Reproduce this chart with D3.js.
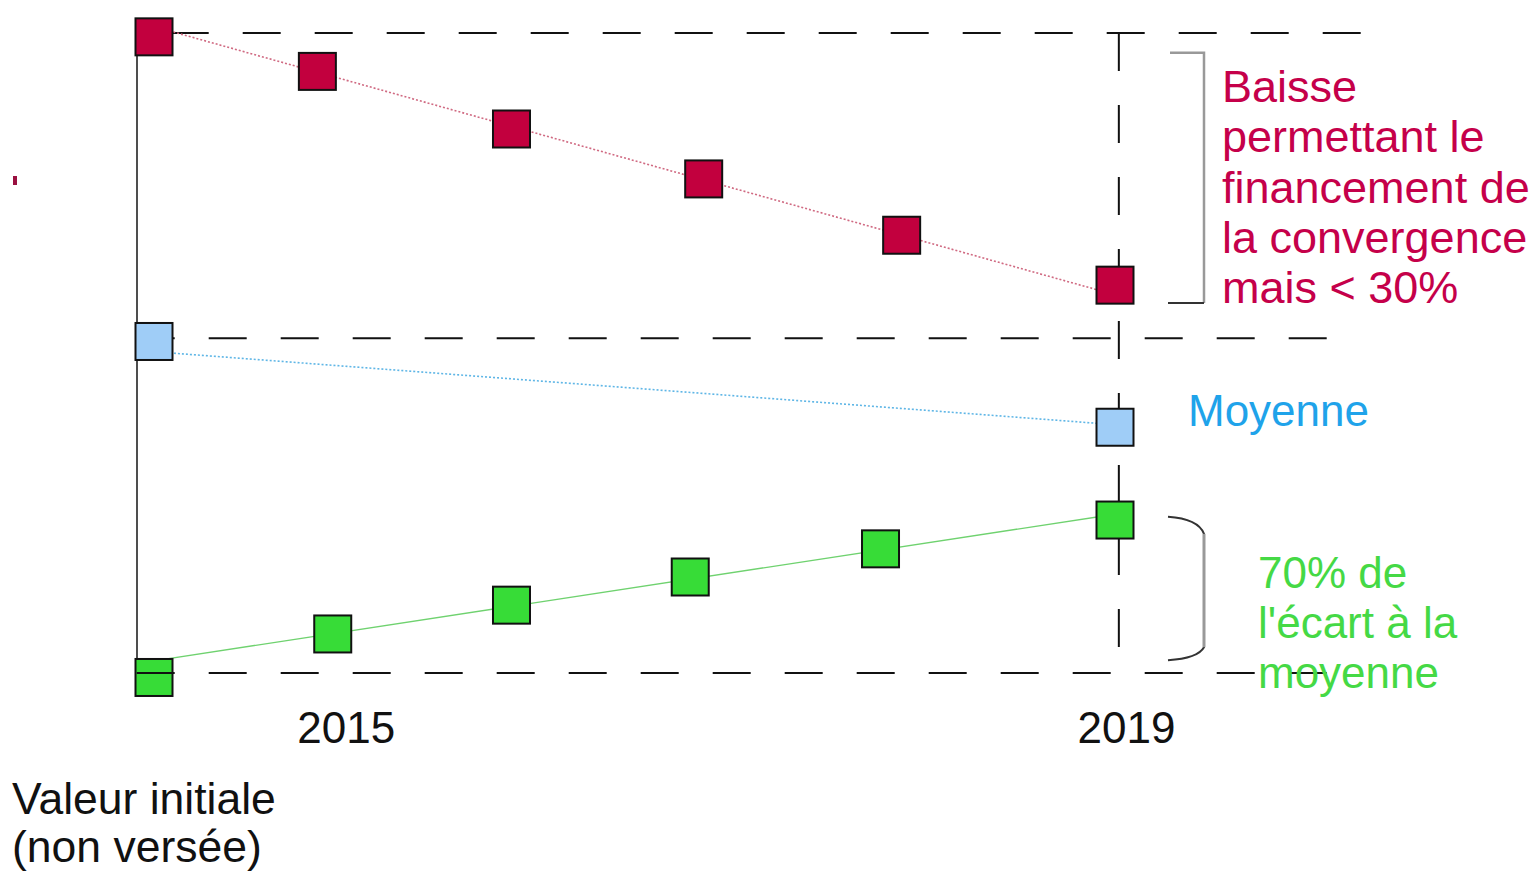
<!DOCTYPE html>
<html>
<head>
<meta charset="utf-8">
<script src="https://cdn.jsdelivr.net/npm/d3@7"></script>
<style>
  body { margin: 0; background: #fff; }
  svg { display: block; font-family: "Liberation Sans", Arial, sans-serif; }
</style>
</head>
<body>
<div id="chart"></div>
<script>
// values (x in years, y in % of the initial gap)
const baisse = [
  { x: 2014, v: 99.4 }, { x: 2014.85, v: 94.0 }, { x: 2015.86, v: 85.0 },
  { x: 2016.86, v: 77.2 }, { x: 2017.89, v: 68.4 }, { x: 2019, v: 60.6 }
];
const moyenne = [{ x: 2014, v: 51.8 }, { x: 2019, v: 38.4 }];
const hausse = [
  { x: 2014, v: -0.7 }, { x: 2014.93, v: 6.1 }, { x: 2015.86, v: 10.6 },
  { x: 2016.79, v: 15.0 }, { x: 2017.78, v: 19.4 }, { x: 2019, v: 23.9 }
];
// straight trend lines drawn behind the squares
const baisseTrend = [{ x: 2014, v: 101.0 }, { x: 2019, v: 59.1 }];
const moyenneTrend = [{ x: 2014, v: 50.2 }, { x: 2019, v: 38.8 }];
const hausseTrend = [{ x: 2014, v: 1.9 }, { x: 2019, v: 24.8 }];

// dashed reference levels: value, x start, x end, dash offset
const refLevels = [
  { v: 100, x0: 2013.91, x1: 2020.28, offset: 38 },
  { v: 52.3, x0: 2013.91, x1: 2020.11, offset: 0 },
  { v: 0, x0: 2013.91, x1: 2020.11, offset: 0 }
];
const tickLabels = [{ label: "2015", x: 2015 }, { label: "2019", x: 2019.06 }];

// bracket extents (value units)
const baisseBracket = [96.9, 57.8];
const hausseBracket = [24.4, 2.0];

const baisseLabel = ["Baisse", "permettant le", "financement de", "la convergence", "mais < 30%"];
const hausseLabel = ["70% de", "l'écart à la", "moyenne"];
const initLabel = ["Valeur initiale", "(non versée)"];

const width = 1540, height = 876;
const x = d3.scaleLinear().domain([2014, 2019]).range([154, 1115]);
const y = d3.scaleLinear().domain([0, 100]).range([673, 33]);

const svg = d3.select("#chart").append("svg")
  .attr("width", width).attr("height", height);

const line = d3.line().x(d => x(d.x)).y(d => y(d.v));
const sq = 37;

// left vertical axis
svg.append("line")
  .attr("x1", 137).attr("x2", 137)
  .attr("y1", y(baisse[0].v)).attr("y2", y(hausse[0].v))
  .attr("stroke", "#222").attr("stroke-width", 1.6);

// top and middle reference lines
svg.selectAll(".ref")
  .data(refLevels.slice(0, 2))
  .enter().append("line")
  .attr("class", "ref")
  .attr("x1", d => x(d.x0)).attr("x2", d => x(d.x1))
  .attr("y1", d => y(d.v)).attr("y2", d => y(d.v))
  .attr("stroke", "#111").attr("stroke-width", 2)
  .attr("stroke-dasharray", "38,34")
  .attr("stroke-dashoffset", d => d.offset);

// vertical dashed line at 2019
svg.append("line")
  .attr("x1", x(2019.02)).attr("x2", x(2019.02))
  .attr("y1", y(100)).attr("y2", y(0))
  .attr("stroke", "#111").attr("stroke-width", 2)
  .attr("stroke-dasharray", "38,34");

// trend lines
svg.append("path").attr("d", line(baisseTrend))
  .attr("fill", "none").attr("stroke", "#d06a82").attr("stroke-width", 1.6)
  .attr("stroke-dasharray", "2,2");
svg.append("path").attr("d", line(moyenneTrend))
  .attr("fill", "none").attr("stroke", "#5fb6e6").attr("stroke-width", 1.6)
  .attr("stroke-dasharray", "2,2");
svg.append("path").attr("d", line(hausseTrend))
  .attr("fill", "none").attr("stroke", "#6fd26f").attr("stroke-width", 1.4);

// squares
const series = [
  { data: baisse, fill: "#c2003e" },
  { data: moyenne, fill: "#9fcdf7" },
  { data: hausse, fill: "#37dc37" }
];
series.forEach(s => {
  svg.append("g").selectAll("rect")
    .data(s.data)
    .enter().append("rect")
    .attr("x", d => x(d.x) - sq / 2)
    .attr("y", d => y(d.v) - sq / 2)
    .attr("width", sq).attr("height", sq)
    .attr("fill", s.fill)
    .attr("stroke", "#111").attr("stroke-width", 2);
});

// bottom reference line, drawn over the first green square
const bottom = refLevels[2];
svg.append("line")
  .attr("x1", x(bottom.x0)).attr("x2", x(bottom.x1))
  .attr("y1", y(bottom.v)).attr("y2", y(bottom.v))
  .attr("stroke", "#111").attr("stroke-width", 2)
  .attr("stroke-dasharray", "38,34");

// brackets
const yb0 = y(baisseBracket[0]), yb1 = y(baisseBracket[1]);
svg.append("path")
  .attr("d", `M1170,${yb0}H1204V${yb1}`)
  .attr("fill", "none").attr("stroke", "#999").attr("stroke-width", 2.5);
svg.append("line")
  .attr("x1", 1168).attr("x2", 1204).attr("y1", yb1).attr("y2", yb1)
  .attr("stroke", "#333").attr("stroke-width", 2);

const yg0 = y(hausseBracket[0]), yg1 = y(hausseBracket[1]);
svg.append("path")
  .attr("d", `M1168,${yg0}Q1198,${yg0 + 2} 1204,${yg0 + 17}V${yg1 - 13}Q1198,${yg1 - 2} 1168,${yg1}`)
  .attr("fill", "none").attr("stroke", "#333").attr("stroke-width", 2);
svg.append("line")
  .attr("x1", 1204).attr("x2", 1204).attr("y1", yg0 + 17).attr("y2", yg1 - 13)
  .attr("stroke", "#999").attr("stroke-width", 3);

// tick labels
svg.selectAll(".tick-label")
  .data(tickLabels)
  .enter().append("text")
  .attr("class", "tick-label")
  .attr("x", d => x(d.x)).attr("y", 743)
  .attr("text-anchor", "middle")
  .attr("font-size", 44).attr("fill", "#111")
  .text(d => d.label);

function block(lines, x0, y0, lh, size, color) {
  svg.append("g").selectAll("text")
    .data(lines)
    .enter().append("text")
    .attr("x", x0).attr("y", (d, i) => y0 + i * lh)
    .attr("font-size", size).attr("fill", color)
    .text(d => d);
}
block(baisseLabel, 1222, 102, 50.3, 45, "#c5004a");
block(["Moyenne"], 1188, 426, 50, 44, "#1fa3ea");
block(hausseLabel, 1258, 588, 50, 44, "#45d945");
block(initLabel, 12, 814, 48, 44.5, "#111");

// small leftover mark on the left edge
svg.append("rect").attr("x", 13).attr("y", 176).attr("width", 4).attr("height", 9)
  .attr("fill", "#9a1040");
</script>
</body>
</html>
